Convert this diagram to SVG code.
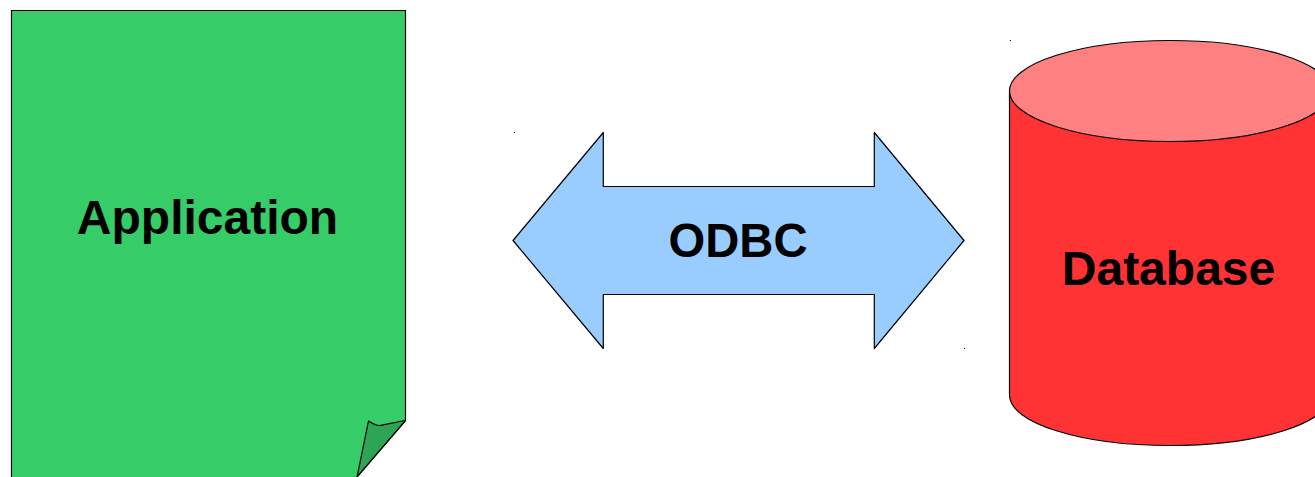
<svg xmlns="http://www.w3.org/2000/svg" width="1315" height="477" viewBox="0 0 1315 477">
<style>
.o{stroke:#000;stroke-width:1.2;stroke-linejoin:round}
.t{font-family:"Liberation Sans",Arial,sans-serif;font-weight:bold;font-size:48px;text-anchor:middle;fill:#000}
.d{fill:#000}
</style>
<rect width="1315" height="477" fill="#fff"/>
<g id="application">
<path class="o" fill="#36cd68" d="M11.500 10.500H405.500V420.500L357 477L353.500 481H11.500Z"/>
<path class="o" fill="#2da554" d="M405.500 420.500C395 422 385 425 379 425.500C375 425.500 372 423 368.500 421L357 477Z"/>
<text class="t" x="207.500" y="234">Application</text>
</g>
<g id="odbc">
<rect class="d" x="514" y="132" width="1" height="1"/>
<rect class="d" x="964" y="348" width="1" height="1"/>
<path class="o" fill="#99ccff" d="M513 240.500L603.300 132.500V186.500H874.300V132.500L964 240.500L874.300 348.500V294.500H603.300V348.500Z"/>
<text class="t" x="738" y="257" textLength="139" lengthAdjust="spacingAndGlyphs">ODBC</text>
</g>
<g id="database">
<rect class="d" x="1010" y="40" width="1" height="1"/>
<path class="o" fill="#ff3333" d="M1009.500 91V395C1009.500 423 1081 445.500 1170 445.500S1330.500 423 1330.500 395V91Z"/>
<ellipse class="o" fill="#ff8080" cx="1170" cy="91" rx="160.500" ry="50.500"/>
<text class="t" x="1168.500" y="285">Database</text>
</g>
<g id="connectors"/>
</svg>
